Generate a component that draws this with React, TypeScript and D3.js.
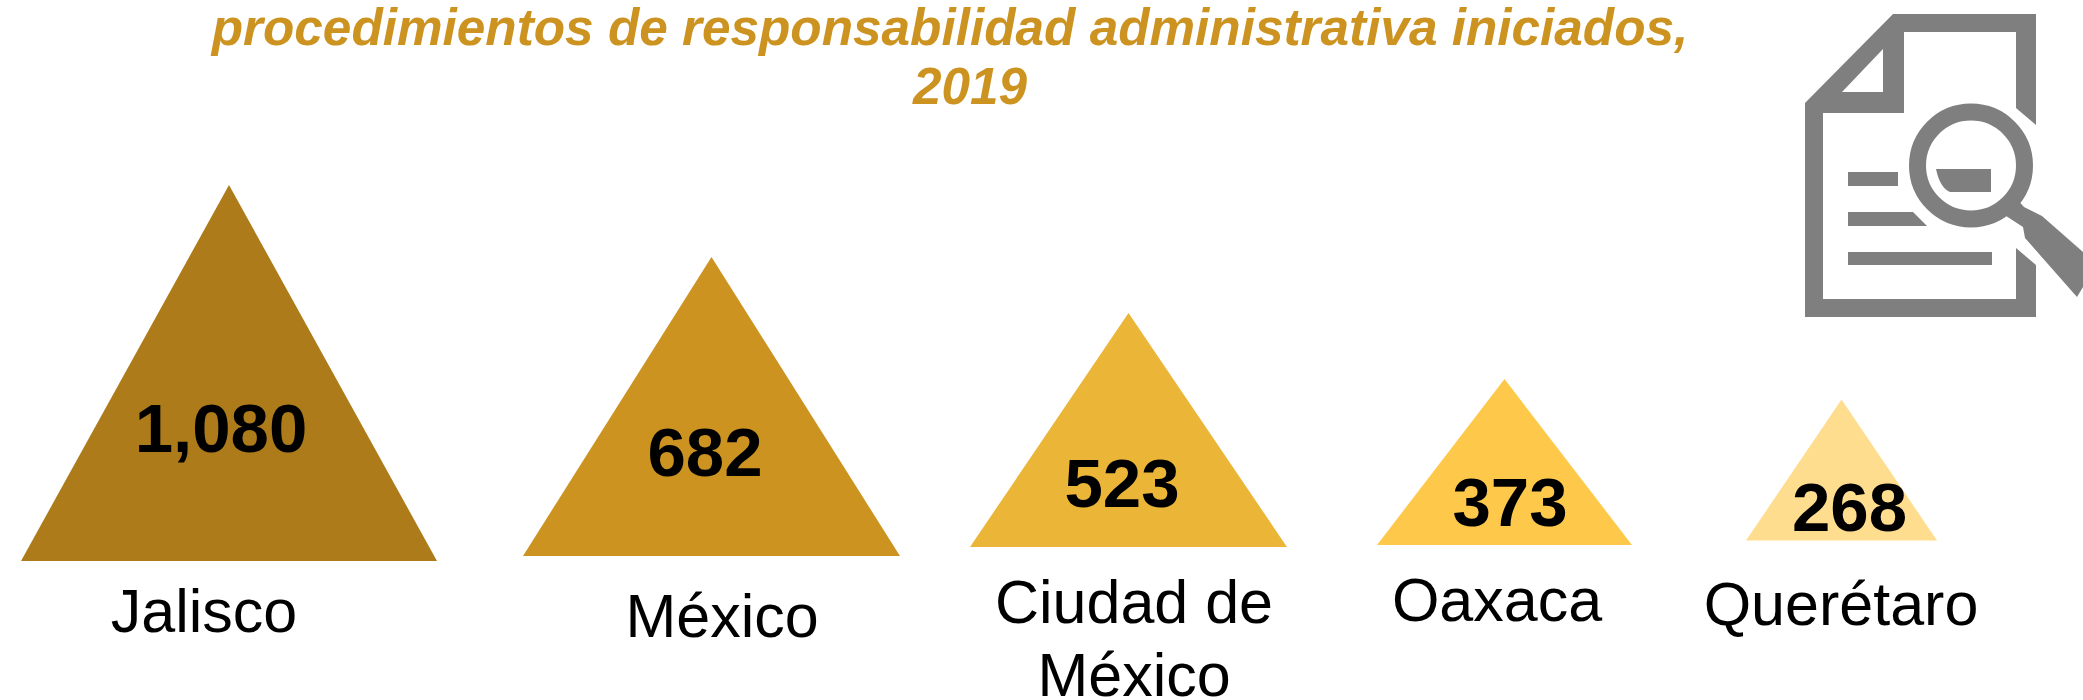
import React from 'react';
import * as d3 from 'd3';

const WIDTH = 2083;
const HEIGHT = 700;

const states = ['Jalisco', 'México', 'Ciudad de México', 'Oaxaca', 'Querétaro'];
const totals = [1080, 682, 523, 373, 268];
const totalLabels = ['1,080', '682', '523', '373', '268'];
const stateLabels = [['Jalisco'], ['México'], ['Ciudad de', 'México'], ['Oaxaca'], ['Querétaro']];
const titleLines = ['procedimientos de responsabilidad administrativa iniciados,', '2019'];

// triangles are not to scale in the original, so the scales go through each value
const sortedTotals = [...totals].reverse();
const triangleHeight = d3.scaleLinear().domain(sortedTotals).range([141, 166, 234, 299, 376]);
const triangleWidth = d3.scaleLinear().domain(sortedTotals).range([191, 255, 317, 377, 416]);
const centerX = d3.scaleOrdinal<string, number>().domain(states).range([229, 711.5, 1128.5, 1504.5, 1841.5]);
const baseY = d3.scaleOrdinal<string, number>().domain(states).range([561, 556, 547, 545, 540.5]);
const fill = d3.scaleOrdinal<string, string>().domain(states)
  .range(['#ad7b1a', '#cc9321', '#ebb537', '#fec94a', '#fedd8f']);
const valueY = d3.scaleOrdinal<string, number>().domain(states).range([452, 476, 507, 526, 531]);
const valueX = d3.scaleOrdinal<string, number>().domain(states).range([221, 705, 1122, 1510, 1849.5]);
const labelX = d3.scaleOrdinal<string, number>().domain(states).range([204, 722, 1134, 1497, 1841]);
const labelY = d3.scaleOrdinal<string, number>().domain(states).range([632, 637, 622.5, 620.5, 625]);

const titleX = [950, 970];
const titleY = [45, 104];

const trianglePath = d3.line<[number, number]>();
const FONT = 'Liberation Sans';
const GREY = '#7f7f7f';

function DocumentIcon() {
  return (
    <g fill={GREY} filter="url(#icon-blur)">
      <path
        fillRule="evenodd"
        d="M1893 14 H2036 V125 L2016 108 V32 H1904 V113 H1823 V299 H2016 V248 L2036 265 V317 H1805 V103 Z M1883 49 L1842 92 H1883 Z"
      />
      <rect x="1848" y="172" width="50" height="14" />
      <path d="M1848 212 H1913 L1927 226 H1848 Z" />
      <rect x="1848" y="252" width="144" height="13" />
      <path d="M1936 169 H1991 V192 H1950 Q1940 188 1936 169 Z" />
      <circle cx="1971" cy="165.5" r="53.5" fill="none" stroke={GREY} strokeWidth="17" />
      <path d="M2000 212 L2015 197 L2024 207 L2042 216 L2083 252 V287 L2077 297 L2025 238 L2023 227 Z" />
    </g>
  );
}

export default function App() {
  return (
    <svg
      width={WIDTH}
      height={HEIGHT}
      viewBox={`0 0 ${WIDTH} ${HEIGHT}`}
      style={{ position: 'absolute', left: 0, top: 0, background: '#fff' }}
    >
      <defs>
        <filter id="icon-blur">
          <feGaussianBlur stdDeviation="0.7" />
        </filter>
      </defs>

      {titleLines.map((line, i) => (
        <text
          key={line}
          x={titleX[i]}
          y={titleY[i]}
          textAnchor="middle"
          fontFamily={FONT}
          fontSize={51.3}
          fontWeight="bold"
          fontStyle="italic"
          fill="#cc9321"
        >
          {line}
        </text>
      ))}

      <DocumentIcon />

      {states.map((state, i) => {
        const cx = centerX(state);
        const base = baseY(state);
        const w = triangleWidth(totals[i]);
        const h = triangleHeight(totals[i]);
        return (
          <g key={state}>
            <path
              d={trianglePath([[cx - w / 2, base], [cx, base - h], [cx + w / 2, base]]) + 'Z'}
              fill={fill(state)}
            />
            <text
              x={valueX(state)}
              y={valueY(state)}
              textAnchor="middle"
              fontFamily={FONT}
              fontSize={69}
              fontWeight="bold"
              fill="#000"
            >
              {totalLabels[i]}
            </text>
            {stateLabels[i].map((line, j) => (
              <text
                key={line}
                x={labelX(state)}
                y={labelY(state) + j * 73}
                textAnchor="middle"
                fontFamily={FONT}
                fontSize={61}
                fill="#000"
              >
                {line}
              </text>
            ))}
          </g>
        );
      })}
    </svg>
  );
}
